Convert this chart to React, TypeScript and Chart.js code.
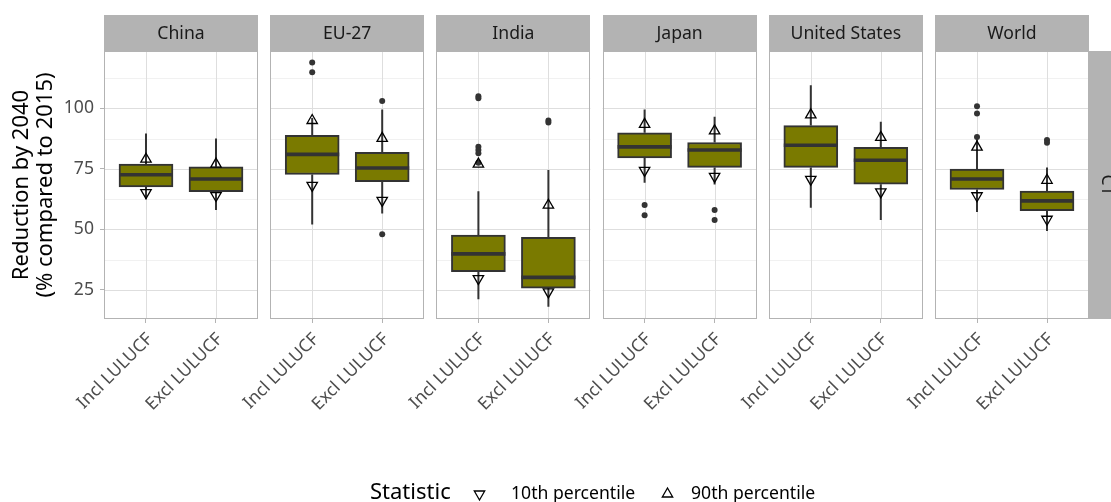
import React, { useEffect, useRef } from 'react';
import { Chart, registerables } from 'chart.js';

Chart.register(...registerables);

// ---------- data ----------
const regions = ['China', 'EU-27', 'India', 'Japan', 'United States', 'World'];
const lulucf = ['Incl LULUCF', 'Excl LULUCF'];
const rowLabel = 'C1';
const yTicks = [25, 50, 75, 100];
const yMinor = [37.5, 62.5, 87.5, 112.5];
const yTitle = ['Reduction by 2040', '(% compared to 2015)'];
const legendTitle = 'Statistic';
const legendLabels = ['10th percentile', '90th percentile'];

// boxes ordered: China Incl, China Excl, EU-27 Incl, EU-27 Excl, ...
const whiskerLow = [62.5, 58, 52, 56.6, 21.2, 18.1, 69.3, 68.6, 59, 53.9, 57.2, 49.3];
const q1 = [67.6, 65.6, 72.7, 69.7, 32.6, 25.7, 79.5, 75.6, 75.6, 68.7, 66.5, 57.7];
const median = [72.6, 70.8, 81, 75.4, 39.9, 30.2, 84.1, 82.8, 84.8, 78.6, 70.8, 61.8];
const q3 = [77, 75.9, 88.9, 81.8, 47.7, 46.7, 89.9, 85.9, 92.9, 83.9, 74.9, 65.8];
const whiskerHigh = [89.6, 87.6, 96, 99.5, 65.8, 74.5, 99.5, 96.5, 109.6, 94.5, 88, 75.6];
const p90 = [79, 77, 95, 87.6, 77, 60, 93.4, 90.7, 97.3, 88, 84, 70.3];
const p10 = [65.2, 64, 68.2, 62, 29.7, 24.2, 74.4, 71.9, 70.7, 65.5, 63.9, 54.2];
const outlierBox = [2, 2, 3, 3, 4, 4, 4, 4, 4, 4, 5, 5, 6, 6, 7, 7, 10, 10, 10, 11, 11];
const outlierValue = [118.9, 114.9, 103, 48, 105, 104.2, 84.1, 82.8, 81.5, 77.5, 95, 94.2, 60.1, 55.9, 58, 53.9, 100.9, 97.9, 88.2, 86.9, 85.8];

// ---------- geometry (facet layout in x units) ----------
const PANEL_W = 2.2;
const GAP = 0.1743;
const CAT_OFF = 0.6;
const X_MAX = regions.length * PANEL_W + (regions.length - 1) * GAP;
const panelStart = (p: number) => p * (PANEL_W + GAP);
const boxX = (b: number) => panelStart(Math.floor(b / 2)) + CAT_OFF + (b % 2);
const tickPositions = regions.flatMap((_, p) => lulucf.map((__, k) => panelStart(p) + CAT_OFF + k));

const FONT = "'Noto Sans', sans-serif";
const BOX_FILL = '#7a7a00';
const DARK = '#333333';
const GRID_MAJOR = '#dedede';
const GRID_MINOR = '#eeeeee';
const BORDER = '#b3b3b3';
const BOX_PX = 54;

function triPath(ctx: CanvasRenderingContext2D, x: number, y: number, r: number, down: boolean) {
  const s = down ? -1 : 1;
  ctx.beginPath();
  ctx.moveTo(x, y - s * r);
  ctx.lineTo(x + r * Math.sin(Math.PI / 3), y + s * r / 2);
  ctx.lineTo(x - r * Math.sin(Math.PI / 3), y + s * r / 2);
  ctx.closePath();
}

const facetPlugin = {
  id: 'facets',
  beforeDatasetsDraw(chart: any) {
    const { ctx, chartArea } = chart;
    const xs = chart.scales.x;
    const ys = chart.scales.y;
    ctx.save();
    regions.forEach((_, p) => {
      const x0 = xs.getPixelForValue(panelStart(p));
      const x1 = xs.getPixelForValue(panelStart(p) + PANEL_W);
      ctx.fillStyle = '#ffffff';
      ctx.fillRect(x0, chartArea.top, x1 - x0, chartArea.bottom - chartArea.top);
      ctx.lineWidth = 0.8;
      ctx.strokeStyle = GRID_MINOR;
      yMinor.forEach((v) => {
        const y = Math.round(ys.getPixelForValue(v)) + 0.5;
        ctx.beginPath();
        ctx.moveTo(x0, y);
        ctx.lineTo(x1, y);
        ctx.stroke();
      });
      ctx.lineWidth = 1;
      ctx.strokeStyle = GRID_MAJOR;
      yTicks.forEach((v) => {
        const y = Math.round(ys.getPixelForValue(v)) + 0.5;
        ctx.beginPath();
        ctx.moveTo(x0, y);
        ctx.lineTo(x1, y);
        ctx.stroke();
      });
      lulucf.forEach((__, k) => {
        const x = Math.round(xs.getPixelForValue(panelStart(p) + CAT_OFF + k)) + 0.5;
        ctx.beginPath();
        ctx.moveTo(x, chartArea.top);
        ctx.lineTo(x, chartArea.bottom);
        ctx.stroke();
      });
    });
    // whiskers
    ctx.strokeStyle = DARK;
    ctx.lineWidth = 2;
    q1.forEach((_, i) => {
      const x = xs.getPixelForValue(boxX(i));
      ctx.beginPath();
      ctx.moveTo(x, ys.getPixelForValue(q3[i]));
      ctx.lineTo(x, ys.getPixelForValue(whiskerHigh[i]));
      ctx.moveTo(x, ys.getPixelForValue(q1[i]));
      ctx.lineTo(x, ys.getPixelForValue(whiskerLow[i]));
      ctx.stroke();
    });
    ctx.restore();
  },
  afterDatasetDraw(chart: any, args: any) {
    if (args.meta.type !== 'bar') return;
    const { ctx } = chart;
    const xs = chart.scales.x;
    const ys = chart.scales.y;
    ctx.save();
    ctx.strokeStyle = DARK;
    ctx.lineWidth = 3.6;
    median.forEach((m, i) => {
      const x = xs.getPixelForValue(boxX(i));
      const y = ys.getPixelForValue(m);
      ctx.beginPath();
      ctx.moveTo(x - BOX_PX / 2, y);
      ctx.lineTo(x + BOX_PX / 2, y);
      ctx.stroke();
    });
    ctx.restore();
  },
  afterDatasetsDraw(chart: any) {
    const { ctx, chartArea } = chart;
    const xs = chart.scales.x;
    ctx.save();
    // panel borders + strips
    regions.forEach((name, p) => {
      const x0 = xs.getPixelForValue(panelStart(p));
      const x1 = xs.getPixelForValue(panelStart(p) + PANEL_W);
      ctx.strokeStyle = BORDER;
      ctx.lineWidth = 1;
      ctx.strokeRect(Math.round(x0) + 0.5, chartArea.top + 0.5, Math.round(x1) - Math.round(x0) - 1, chartArea.bottom - chartArea.top - 1);
      ctx.fillStyle = BORDER;
      ctx.fillRect(Math.round(x0), chartArea.top - 36, Math.round(x1) - Math.round(x0), 36);
      ctx.fillStyle = '#1a1a1a';
      ctx.font = `17.6px ${FONT}`;
      ctx.textAlign = 'center';
      ctx.textBaseline = 'middle';
      ctx.fillText(name, (x0 + x1) / 2, chartArea.top - 17);
    });
    // x tick labels (rotated 45°, right end at the tick)
    ctx.fillStyle = '#4d4d4d';
    ctx.font = `17.6px ${FONT}`;
    ctx.textAlign = 'right';
    ctx.textBaseline = 'middle';
    tickPositions.forEach((v, i) => {
      const x = xs.getPixelForValue(v);
      ctx.save();
      ctx.translate(x - 3.5, chartArea.bottom + 10);
      ctx.rotate(-Math.PI / 4);
      ctx.fillText(lulucf[i % 2], 0, 10.5);
      ctx.restore();
    });
    // right strip
    ctx.fillStyle = BORDER;
    ctx.fillRect(chartArea.right, chartArea.top, 36, chartArea.bottom - chartArea.top);
    ctx.save();
    ctx.translate(chartArea.right + 18, (chartArea.top + chartArea.bottom) / 2);
    ctx.rotate(Math.PI / 2);
    ctx.fillStyle = '#1a1a1a';
    ctx.font = `17.6px ${FONT}`;
    ctx.textAlign = 'center';
    ctx.textBaseline = 'middle';
    ctx.fillText(rowLabel, 0, 0);
    ctx.restore();
    // y title
    ctx.save();
    ctx.translate(0, (chartArea.top + chartArea.bottom) / 2);
    ctx.rotate(-Math.PI / 2);
    ctx.fillStyle = '#000000';
    ctx.font = `22px ${FONT}`;
    ctx.textAlign = 'center';
    ctx.textBaseline = 'middle';
    ctx.fillText(yTitle[0], 0, 22);
    ctx.fillText(yTitle[1], 0, 46);
    ctx.restore();
    // legend
    const ly = 499;
    ctx.fillStyle = '#000000';
    ctx.textAlign = 'left';
    ctx.textBaseline = 'alphabetic';
    ctx.font = `22px ${FONT}`;
    ctx.fillText(legendTitle, 370, ly);
    ctx.font = `17.6px ${FONT}`;
    ctx.fillText(legendLabels[0], 511, ly);
    ctx.fillText(legendLabels[1], 691, ly);
    ctx.strokeStyle = '#000000';
    ctx.lineWidth = 1.3;
    triPath(ctx, 479.5, 494, 6, true);
    ctx.stroke();
    triPath(ctx, 667.5, 494, 6, false);
    ctx.stroke();
    ctx.restore();
  },
};

export default function App() {
  const ref = useRef<HTMLCanvasElement>(null);
  useEffect(() => {
    if (!ref.current) return;
    const chart = new Chart(ref.current, {
      type: 'bar',
      data: {
        datasets: [
          {
            type: 'scatter',
            label: 'p90',
            data: p90.map((v, i) => ({ x: boxX(i), y: v })),
            pointStyle: 'triangle',
            pointRotation: 0,
            pointRadius: 6,
            pointBorderColor: '#000000',
            pointBackgroundColor: 'rgba(0,0,0,0)',
            pointBorderWidth: 1.3,
            order: 0,
          } as any,
          {
            type: 'scatter',
            label: 'p10',
            data: p10.map((v, i) => ({ x: boxX(i), y: v })),
            pointStyle: 'triangle',
            pointRotation: 180,
            pointRadius: 6,
            pointBorderColor: '#000000',
            pointBackgroundColor: 'rgba(0,0,0,0)',
            pointBorderWidth: 1.3,
            order: 0,
          } as any,
          {
            type: 'scatter',
            label: 'outliers',
            data: outlierValue.map((v, i) => ({ x: boxX(outlierBox[i]), y: v })),
            pointStyle: 'circle',
            pointRadius: 3,
            pointBorderWidth: 0,
            pointBackgroundColor: DARK,
            pointBorderColor: DARK,
            order: 1,
          } as any,
          {
            type: 'bar',
            label: 'box',
            data: q1.map((v, i) => ({ x: boxX(i), y: [v, q3[i]] })),
            backgroundColor: BOX_FILL,
            borderColor: DARK,
            borderWidth: 2,
            borderSkipped: false,
            barThickness: BOX_PX,
            order: 2,
          } as any,
        ],
      },
      options: {
        animation: false,
        responsive: false,
        devicePixelRatio: 1,
        events: [],
        layout: { padding: { left: 0, right: 22, top: 51, bottom: 0 } },
        plugins: { legend: { display: false }, tooltip: { enabled: false } },
        scales: {
          x: {
            type: 'linear',
            min: 0,
            max: X_MAX,
            offset: false,
            afterBuildTicks: (s: any) => {
              s.ticks = tickPositions.map((v) => ({ value: v }));
            },
            afterFit: (s: any) => {
              s.height = 183;
            },
            grid: { offset: false, drawOnChartArea: false, drawTicks: true, tickLength: 4, color: BORDER, lineWidth: 1 },
            border: { display: false },
            ticks: { display: false, autoSkip: false },
          },
          y: {
            type: 'linear',
            min: 13,
            max: 123.7,
            beginAtZero: false,
            afterBuildTicks: (s: any) => {
              s.ticks = yTicks.map((v) => ({ value: v }));
            },
            afterFit: (s: any) => {
              s.width = 104;
            },
            grid: { drawOnChartArea: false, drawTicks: true, tickLength: 4, color: BORDER, lineWidth: 1 },
            border: { display: false },
            ticks: {
              padding: 6,
              color: '#4d4d4d',
              font: { family: FONT, size: 17.6 },
              callback: (v: any) => String(v),
            },
          },
        },
      } as any,
      plugins: [facetPlugin],
    });
    return () => chart.destroy();
  }, []);
  return (
    <div style={{ position: 'absolute', left: 0, top: 0, width: 1111, height: 502, background: '#ffffff' }}>
      <canvas ref={ref} width={1111} height={502} style={{ width: 1111, height: 502, display: 'block' }} />
    </div>
  );
}
